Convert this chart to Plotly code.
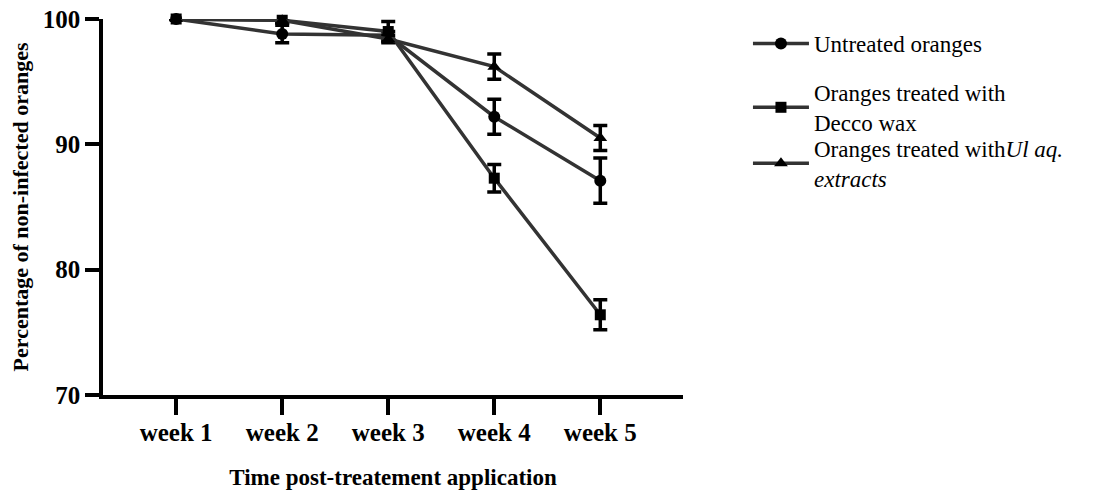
import plotly.graph_objects as go

weeks = ["week 1", "week 2", "week 3", "week 4", "week 5"]

untreated = [100, 98.8, 98.7, 92.2, 87.1]
untreated_err = [0, 0.7, 0.3, 1.4, 1.8]

decco = [100, 99.9, 99.0, 87.3, 76.4]
decco_err = [0, 0.2, 0.8, 1.1, 1.2]

ul = [100, 99.9, 98.4, 96.2, 90.5]
ul_err = [0, 0.2, 0.3, 1.0, 1.0]

series = [
    ("Untreated oranges", untreated, untreated_err, "circle", 12),
    ("Oranges treated with<br>Decco wax", decco, decco_err, "square", 11),
    ("Oranges treated with<i>Ul aq.</i><br><i>extracts</i>", ul, ul_err, "triangle-up", 12),
]
legend_ids = ["legend", "legend2", "legend3"]
legend_y = [0.992, 0.862, 0.713]

FONT = "Liberation Serif, Times New Roman, serif"

fig = go.Figure()
for i, (name, vals, errs, sym, size) in enumerate(series):
    fig.add_trace(go.Scatter(
        x=weeks, y=vals, name=name, mode="lines+markers",
        line=dict(color="#333333", width=3.5),
        marker=dict(symbol=sym, size=size, color="black"),
        error_y=dict(type="data", array=errs, visible=True, color="black", thickness=3.5, width=7),
        cliponaxis=False,
        legend=legend_ids[i],
    ))

legend_style = dict(
    x=1.112, xanchor="left", yanchor="top",
    font=dict(family=FONT, size=23, color="black"),
    itemwidth=56,
    bgcolor="rgba(0,0,0,0)",
)

fig.update_layout(
    width=1110, height=495,
    margin=dict(l=95, r=435, t=11, b=108, autoexpand=False),
    plot_bgcolor="white", paper_bgcolor="white",
    font=dict(family=FONT, color="black"),
    showlegend=True,
    legend=dict(y=legend_y[0], **legend_style),
    legend2=dict(y=legend_y[1], **legend_style),
    legend3=dict(y=legend_y[2], **legend_style),
    xaxis=dict(
        type="category",
        range=[-0.69, 4.78],
        showline=True, linecolor="black", linewidth=3.5,
        ticks="outside", ticklen=16, tickwidth=3.5, tickcolor="black",
        showgrid=False, zeroline=False,
        tickfont=dict(family=FONT, size=25, color="black", weight="bold"),
        ticklabelstandoff=-4,
        title=dict(text="<b>Time post-treatement application</b>", font=dict(family=FONT, size=23, color="black"), standoff=25),
        automargin=False,
    ),
    yaxis=dict(
        range=[70, 100],
        tickvals=[70, 80, 90, 100],
        showline=True, linecolor="black", linewidth=3.5,
        ticks="outside", ticklen=14, tickwidth=3.5, tickcolor="black",
        showgrid=False, zeroline=False,
        tickfont=dict(family=FONT, size=25, color="black", weight="bold"),
        ticklabeloverflow="allow",
        title=dict(text="<b>Percentage of non-infected oranges</b>", font=dict(family=FONT, size=22, color="black"), standoff=16),
        automargin=False,
    ),
)

fig.write_html("out.html")
